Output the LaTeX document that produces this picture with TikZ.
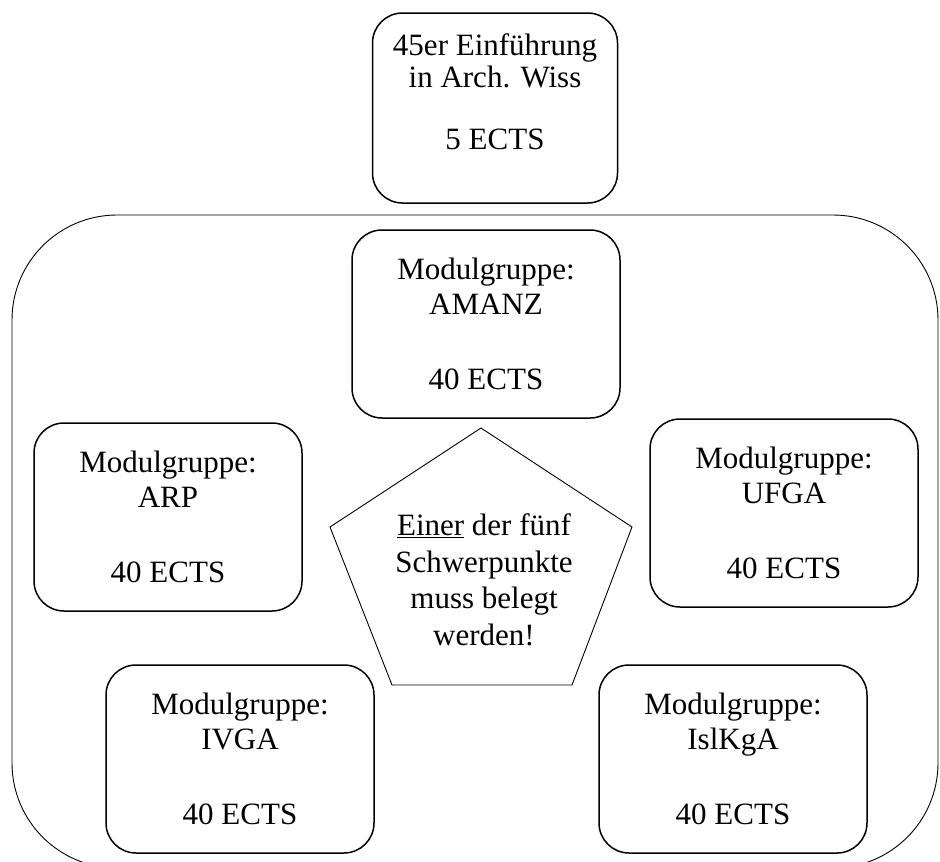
\documentclass[tikz,border=0pt]{standalone}
\usepackage{fontspec}
\setmainfont{Liberation Serif}
\tikzset{
	x=1pt,
	y=-1pt,
	modul/.style={
		draw=black,
		line width=1.5pt,
		rounded corners=30pt,
		minimum width=268pt,
		minimum height=188pt,
		inner sep=0pt,
		align=center,
		font=\fontsize{31}{35}\selectfont
	},
	schrift/.style={
		align=center,
		inner sep=0pt,
		font=\fontsize{31}{35}\selectfont
	},
	rahmen/.style={
		draw=black,
		line width=0.9pt
	}
}
\begin{document}
\begin{tikzpicture}
  \useasboundingbox (0,0) rectangle (940,862);
  \draw [rahmen, rounded corners=105pt] (12,215) rectangle (938,868);

  \node [modul, minimum width=245pt, minimum height=190pt] (intro) at (495,108) {};
  \node [schrift] (introtext) at (495,92) {45er Einführung\\[-3pt]in Arch. Wiss\\[27pt]5 ECTS};

  \node [modul] (amanz) at (486,324) {Modulgruppe:\\AMANZ\\[40pt]40 ECTS};
  \node [modul] (arp) at (168,517) {Modulgruppe:\\ARP\\[40pt]40 ECTS};
  \node [modul] (ufga) at (784,513) {Modulgruppe:\\UFGA\\[40pt]40 ECTS};
  \node [modul] (ivga) at (240,759) {Modulgruppe:\\IVGA\\[40pt]40 ECTS};
  \node [modul] (islkga) at (733,759) {Modulgruppe:\\IslKgA\\[40pt]40 ECTS};

  \coordinate (p1) at (481,428);
  \coordinate (p2) at (632,527);
  \coordinate (p3) at (572,685);
  \coordinate (p4) at (392,685);
  \coordinate (p5) at (330,527);
  \draw [rahmen] (p1) -- (p2) -- (p3) -- (p4) -- (p5) -- cycle;
  \node [schrift, font=\fontsize{31}{36.5}\selectfont] (hinweis) at (484,580) {\underline{Einer} der fünf\\Schwerpunkte\\muss belegt\\werden!};
\end{tikzpicture}
\end{document}
